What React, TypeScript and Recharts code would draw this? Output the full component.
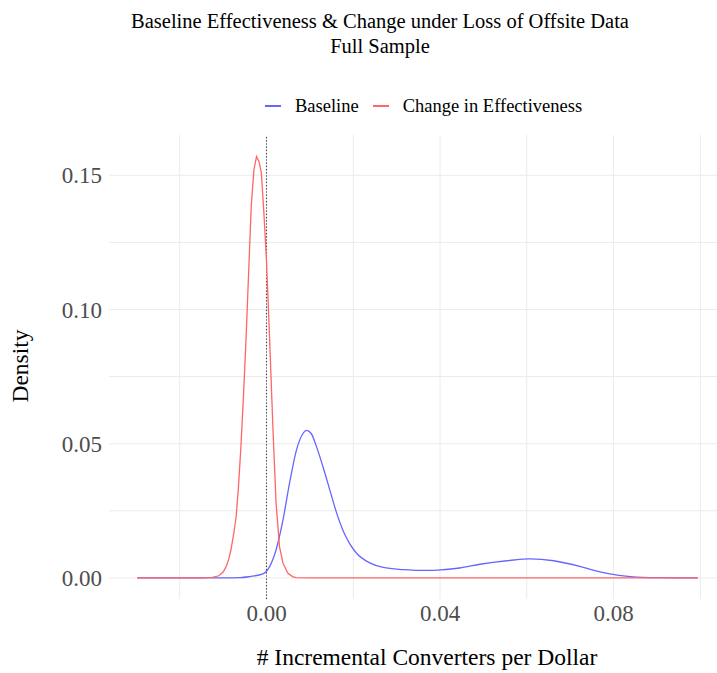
// Density of baseline effectiveness vs. change under loss of offsite data.
// Two density curves on a shared numeric x axis, dotted reference at zero.

import {
  CartesianGrid,
  Legend,
  Line,
  LineChart,
  ReferenceLine,
  XAxis,
  YAxis,
} from "recharts";

const FONT = "'Liberation Serif', 'Times New Roman', serif";

// Change in Effectiveness (red)
const CHANGE_X = [
  -0.0298, -0.02, -0.015, -0.0125, -0.011, -0.01, -0.0093, -0.0087, -0.0082,
  -0.0076, -0.007, -0.0065, -0.0059, -0.0053, -0.0047, -0.0041, -0.0035,
  -0.0029, -0.0023, -0.0017, -0.0012, -0.0006, 0.0, 0.0007, 0.0015, 0.0022,
  0.003, 0.0038, 0.0049, 0.006, 0.0068, 0.01, 0.02, 0.04, 0.06, 0.08, 0.0994,
];
const CHANGE_Y = [
  0, 0, 0, 0.0002, 0.0008, 0.0022, 0.0042, 0.007, 0.0104, 0.016, 0.0228,
  0.033, 0.0488, 0.068, 0.0897, 0.1145, 0.139, 0.152, 0.157, 0.155, 0.151,
  0.136, 0.118, 0.0897, 0.055, 0.028, 0.0116, 0.0055, 0.0018, 0.0005, 0.0001,
  0, 0, 0, 0, 0, 0,
];

// Baseline (blue)
const BASE_X = [
  -0.0298, -0.01, -0.006, -0.0039, -0.0008, 0.0007, 0.0022, 0.0038, 0.0053,
  0.0069, 0.0084, 0.0092, 0.0103, 0.0115, 0.013, 0.0146, 0.0161, 0.0176,
  0.0192, 0.0207, 0.0238, 0.0269, 0.0315, 0.035, 0.0377, 0.04, 0.0445,
  0.0492, 0.0554, 0.0608, 0.0662, 0.0724, 0.0755, 0.0785, 0.0839, 0.09, 0.0994,
];
const BASE_Y = [
  0, 0, 0.0001, 0.0005, 0.0015, 0.0042, 0.0104, 0.0216, 0.0352, 0.0476,
  0.0538, 0.055, 0.0538, 0.049, 0.0415, 0.0327, 0.0245, 0.0178, 0.0127,
  0.0093, 0.0056, 0.0039, 0.0031, 0.0028, 0.0028, 0.003, 0.0037, 0.0051,
  0.0064, 0.0071, 0.0064, 0.0042, 0.0028, 0.0017, 0.0005, 0.0001, 0,
];

const X_TICKS = [0, 0.04, 0.08];
const Y_TICKS = [0, 0.05, 0.1, 0.15];
const X_GRID = [-0.02, 0, 0.02, 0.04, 0.06, 0.08, 0.1];
const Y_GRID = [0, 0.025, 0.05, 0.075, 0.1, 0.125, 0.15];

const SERIES = [
  { name: "Baseline", color: "#6666ff" },
  { name: "Change in Effectiveness", color: "#ff6666" },
];

const baseline = BASE_X.map((x, i) => ({ x, y: BASE_Y[i] }));
const change = CHANGE_X.map((x, i) => ({ x, y: CHANGE_Y[i] }));

function KeyLegend() {
  return (
    <div
      style={{
        display: "flex",
        alignItems: "center",
        fontFamily: FONT,
        fontSize: 18.5,
        lineHeight: "18px",
        color: "#000",
      }}
    >
      {SERIES.map((s) => (
        <span
          key={s.name}
          style={{ display: "flex", alignItems: "center", marginRight: 14 }}
        >
          <span
            style={{
              width: 16,
              height: 1.4,
              background: s.color,
              marginRight: 14,
              display: "inline-block",
            }}
          />
          {s.name}
        </span>
      ))}
    </div>
  );
}

const tickStyle = { fill: "#4d4d4d", fontSize: 23, fontFamily: FONT };

export default function App() {
  return (
    <div
      style={{
        position: "absolute",
        left: 0,
        top: 0,
        width: 717,
        height: 673,
        overflow: "hidden",
        background: "#fff",
      }}
    >
      <div
        style={{
          position: "absolute",
          left: 0,
          width: 760,
          top: 9,
          textAlign: "center",
          fontFamily: FONT,
          fontSize: 20.5,
          lineHeight: "25px",
          color: "#000",
        }}
      >
        Baseline Effectiveness &amp; Change under Loss of Offsite Data
        <br />
        Full Sample
      </div>

      <LineChart
        width={740}
        height={673}
        margin={{ top: 135, right: 14, bottom: 34, left: 0 }}
      >
        <CartesianGrid
          stroke="#ebebeb"
          strokeWidth={1}
          horizontalValues={Y_GRID}
          verticalValues={X_GRID}
        />
        <XAxis
          type="number"
          dataKey="x"
          domain={[-0.0363, 0.1059]}
          ticks={X_TICKS}
          allowDataOverflow
          tickFormatter={(v: number) => v.toFixed(2)}
          tick={tickStyle}
          axisLine={false}
          tickLine={false}
          tickSize={0}
          tickMargin={6}
          height={40}
        />
        <YAxis
          type="number"
          domain={[-0.00785, 0.165]}
          ticks={Y_TICKS}
          allowDataOverflow
          tickFormatter={(v: number) => v.toFixed(2)}
          tick={tickStyle}
          axisLine={false}
          tickLine={false}
          tickSize={0}
          tickMargin={7}
          width={109}
        />
        <ReferenceLine
          x={0}
          stroke="#333"
          strokeWidth={1.1}
          strokeDasharray="1.2 2"
        />
        <Legend
          layout="horizontal"
          verticalAlign="middle"
          content={<KeyLegend />}
          wrapperStyle={{ position: "absolute", top: 97, left: 265, width: 400 }}
        />
        <Line
          data={baseline}
          dataKey="y"
          name="Baseline"
          type="monotone"
          stroke="#6666ff"
          strokeWidth={1.3}
          dot={false}
          isAnimationActive={false}
        />
        <Line
          data={change}
          dataKey="y"
          name="Change in Effectiveness"
          type="linear"
          stroke="#ff6666"
          strokeWidth={1.3}
          dot={false}
          isAnimationActive={false}
        />
      </LineChart>

      <div
        style={{
          position: "absolute",
          left: 21,
          top: 366,
          transform: "translate(-50%, -50%) rotate(-90deg)",
          fontFamily: FONT,
          fontSize: 23.5,
          lineHeight: 1,
          color: "#000",
          whiteSpace: "nowrap",
        }}
      >
        Density
      </div>
      <div
        style={{
          position: "absolute",
          left: 427,
          top: 658,
          transform: "translate(-50%, -50%)",
          fontFamily: FONT,
          fontSize: 23.5,
          lineHeight: 1,
          color: "#000",
          whiteSpace: "nowrap",
        }}
      >
        # Incremental Converters per Dollar
      </div>
    </div>
  );
}
